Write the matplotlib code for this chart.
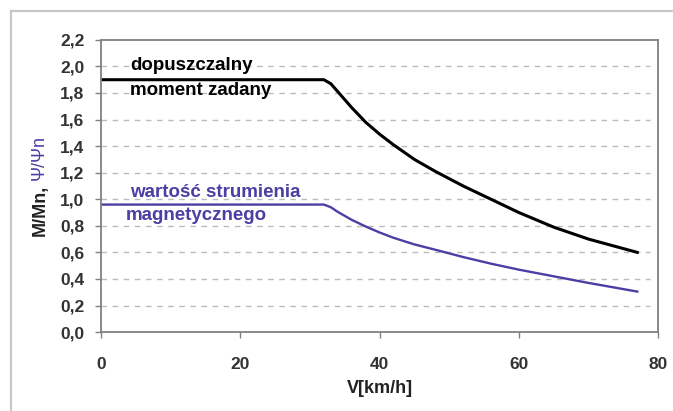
import matplotlib.pyplot as plt
from matplotlib.lines import Line2D

# values
v_moment = [0, 32, 33, 34, 36, 38, 40, 42, 45, 48, 52, 56, 60, 65, 70, 77]
m_moment = [1.90, 1.90, 1.87, 1.81, 1.69, 1.58, 1.49, 1.41, 1.30, 1.21, 1.10, 1.00, 0.90, 0.79, 0.70, 0.60]

v_flux = [0, 32, 33, 34, 36, 38, 40, 42, 45, 48, 52, 56, 60, 65, 70, 77]
psi_flux = [0.96, 0.96, 0.94, 0.905, 0.845, 0.795, 0.75, 0.71, 0.66, 0.62, 0.565, 0.515, 0.47, 0.42, 0.37, 0.305]

x_ticks = [0, 20, 40, 60, 80]
y_ticks = [0.0, 0.2, 0.4, 0.6, 0.8, 1.0, 1.2, 1.4, 1.6, 1.8, 2.0, 2.2]

blue = "#4a3fa3"
grey = "#808080"

plt.rcParams["font.family"] = ["Liberation Sans", "DejaVu Sans"]

fig = plt.figure(figsize=(6.73, 4.11), dpi=100)
ax = fig.add_axes([0.150, 0.192, 0.828, 0.711])

ax.plot(v_moment, m_moment, color="black", lw=2.2, solid_joinstyle="round")
ax.plot(v_flux, psi_flux, color=blue, lw=1.7, solid_joinstyle="round")

ax.set_xlim(0, 80)
ax.set_ylim(0, 2.2)
ax.set_xticks(x_ticks)
ax.set_yticks(y_ticks)
ax.set_yticklabels([f"{y:.1f}".replace(".", ",") for y in y_ticks])
ax.set_xticklabels([str(x) for x in x_ticks])

for y in y_ticks[1:-1]:
    ax.axhline(y, xmax=0.985, color="#bcbcbc", lw=1.0, ls=(0, (4, 4)), zorder=0)

for s in ax.spines.values():
    s.set_color(grey)
    s.set_linewidth(1.3)

ax.tick_params(axis="both", colors=grey, length=4, width=1.0, labelsize=12.5)
ax.tick_params(axis="y", pad=8)
ax.tick_params(axis="x", pad=14)
for lab in ax.get_xticklabels() + ax.get_yticklabels():
    lab.set_color("#333333")
    lab.set_fontweight("bold")

ax.set_xlabel("V[km/h]", fontsize=13, fontweight="bold", color="#222222", labelpad=6)

ax.text(4.2, 2.01, "dopuszczalny", fontsize=13.5, fontweight="bold", va="center")
ax.text(4.2, 1.82, "moment zadany", fontsize=13.5, fontweight="bold", va="center")
ax.text(4.2, 1.05, "wartość strumienia", fontsize=13.5, fontweight="bold", va="center", color=blue)
ax.text(3.5, 0.875, "magnetycznego", fontsize=13.5, fontweight="bold", va="center", color=blue)

fig.text(0.060, 1 - 210 / 411, "M/Mn,", rotation=90, fontsize=13, fontweight="bold",
         ha="center", va="center", color="#222222")
fig.text(0.058, 1 - 158 / 411, "Ψ/Ψn", rotation=90, fontsize=13,
         ha="center", va="center", color=blue)

# outer frame (top and left only visible)
fig.add_artist(Line2D([11 / 673, 1], [1 - 11 / 411, 1 - 11 / 411], color="#c8c8c8", lw=1.6,
                      transform=fig.transFigure))
fig.add_artist(Line2D([11 / 673, 11 / 673], [0, 1 - 11 / 411], color="#c8c8c8", lw=1.6,
                      transform=fig.transFigure))

fig.savefig("out.png", dpi=100)
